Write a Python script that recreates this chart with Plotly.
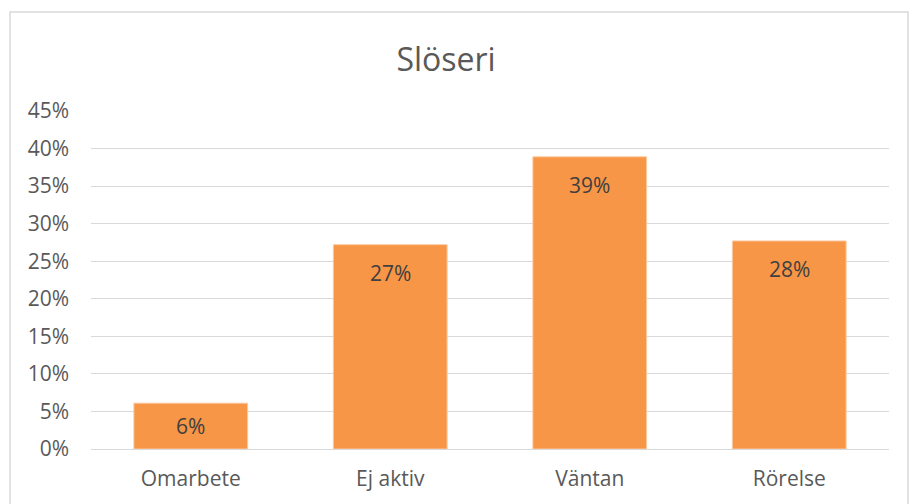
import plotly.graph_objects as go

categories = ["Omarbete", "Ej aktiv", "Väntan", "Rörelse"]
values = [0.061, 0.272, 0.389, 0.277]
y_ticks = [0, 0.05, 0.10, 0.15, 0.20, 0.25, 0.30, 0.35, 0.40, 0.45]
title_text = "Slöseri"

FONT = "Open Sans"
TXT = "#595959"
GRID = "#D9D9D9"
BAR = "#F79646"

fig = go.Figure(go.Bar(
    x=categories, y=values,
    marker=dict(color=BAR, line=dict(color="#FBC9A0", width=1)),
    width=0.57,
    hoverinfo="skip",
))

# data labels: inside-end, or centered when the bar is too short
for c, v in zip(categories, values):
    short = v < 0.08
    fig.add_annotation(
        x=c, y=v / 2 if short else v,
        yshift=0 if short else -28,
        text=f"{v:.0%}", showarrow=False,
        yanchor="middle", xanchor="center",
        font=dict(family=FONT, size=21, color="#404040"),
    )

L, R, T, B = 91, 20, 111, 55
W, H = 909, 504
pw, ph = W - L - R, H - T - B

def px_x(p):
    return (p - L) / pw

def px_y(p):
    return (H - B - p) / ph

fig.add_shape(type="rect", xref="paper", yref="paper",
              x0=px_x(10), x1=px_x(908), y0=px_y(520), y1=px_y(12),
              line=dict(color=GRID, width=1.5), layer="below")

fig.update_layout(
    width=W, height=H,
    margin=dict(l=L, r=R, t=T, b=B),
    paper_bgcolor="white", plot_bgcolor="white",
    showlegend=False,
    title=dict(text=title_text, x=446 / W, xanchor="center",
               y=1 - 60 / H, yanchor="middle", yref="container",
               font=dict(family=FONT, size=32, color=TXT)),
    xaxis=dict(showgrid=False, showline=False, zeroline=False, ticks="",
               tickfont=dict(family=FONT, size=21, color=TXT),
               ticklabelstandoff=15),
    yaxis=dict(range=[0, 0.45], tickvals=y_ticks, tickformat=".0%",
               showgrid=True, gridcolor=GRID, gridwidth=1.4,
               zeroline=True, zerolinecolor=GRID, zerolinewidth=1.4,
               showline=False, ticks="",
               tickfont=dict(family=FONT, size=21, color=TXT),
               ticklabelstandoff=21),
)

fig.write_html("out.html", config={"displayModeBar": False},
               post_script="document.body.style.margin='0';")
